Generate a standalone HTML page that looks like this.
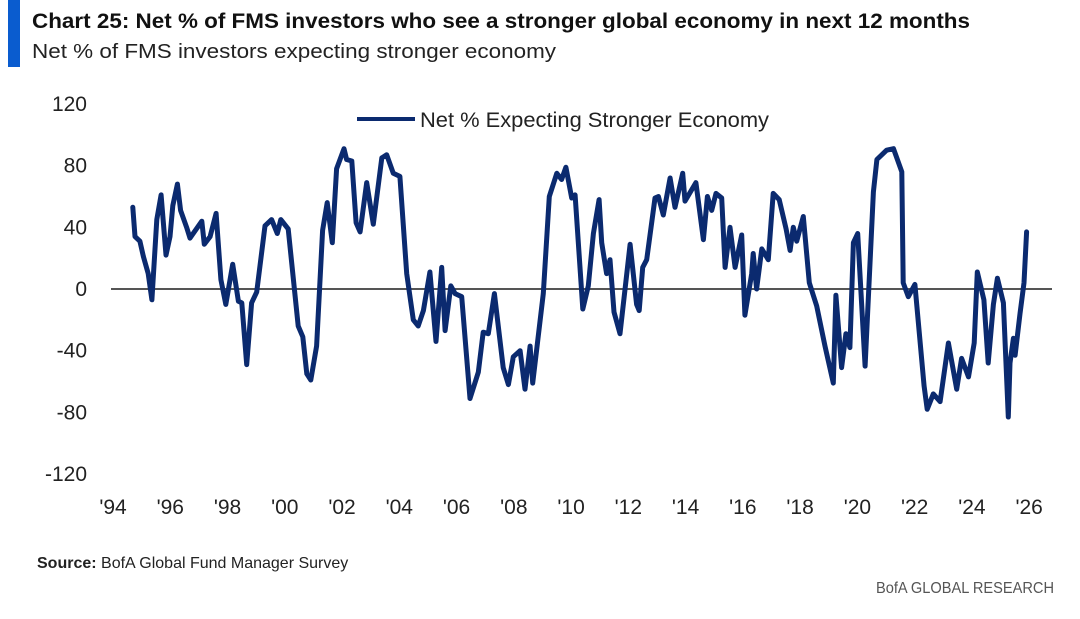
<!DOCTYPE html>
<html><head><meta charset="utf-8"><style>
html,body{margin:0;padding:0;background:#fff;}
svg{display:block;font-family:"Liberation Sans",sans-serif;}
</style></head><body>
<svg id="chart" width="1080" height="619" viewBox="0 0 1080 619">
<rect x="8" y="0" width="12" height="67" fill="#0a5ccf"/>
<text x="32" y="28" font-size="21" font-weight="bold" fill="#111" textLength="938" lengthAdjust="spacingAndGlyphs">Chart 25: Net % of FMS investors who see a stronger global economy in next 12 months</text>
<text x="32" y="58" font-size="20" fill="#222" textLength="524" lengthAdjust="spacingAndGlyphs">Net % of FMS investors expecting stronger economy</text>
<g id="yaxis"></g>
<g id="xaxis"></g>
<line x1="111" x2="1052" y1="289" y2="289" stroke="#555" stroke-width="2"/>
<g id="series"></g>
<g>
<line x1="357" x2="415" y1="119" y2="119" stroke="#0b2a6f" stroke-width="4"/>
<text x="420" y="127" font-size="21" fill="#222" textLength="349" lengthAdjust="spacingAndGlyphs">Net % Expecting Stronger Economy</text>
</g>
<text x="37" y="568" font-size="16" fill="#222"><tspan font-weight="bold">Source:</tspan> BofA Global Fund Manager Survey</text>
<text x="1054" y="593" font-size="16" fill="#555" text-anchor="end" textLength="178" lengthAdjust="spacingAndGlyphs">BofA GLOBAL RESEARCH</text>
</svg>
<script>
const yTicks=[120,80,40,0,-40,-80,-120];
const xTickYears=[1994,1996,1998,2000,2002,2004,2006,2008,2010,2012,2014,2016,2018,2020,2022,2024,2026];
const xTickLabels=["'94","'96","'98","'00","'02","'04","'06","'08","'10","'12","'14","'16","'18","'20","'22","'24","'26"];
const dates=[1994.76,1994.84,1995.01,1995.13,1995.30,1995.43,1995.60,1995.75,1995.92,1996.06,1996.16,1996.32,1996.43,1996.64,1996.76,1997.17,1997.26,1997.46,1997.67,1997.84,1998.01,1998.25,1998.45,1998.57,1998.74,1998.91,1999.09,1999.38,1999.61,1999.81,1999.93,2000.19,2000.54,2000.70,2000.84,2000.98,2001.18,2001.39,2001.55,2001.73,2001.88,2002.14,2002.23,2002.41,2002.56,2002.70,2002.93,2003.16,2003.46,2003.63,2003.86,2003.98,2004.09,2004.33,2004.56,2004.73,2004.91,2005.14,2005.35,2005.55,2005.67,2005.87,2006.02,2006.25,2006.54,2006.83,2007.00,2007.18,2007.39,2007.70,2007.88,2008.05,2008.29,2008.46,2008.64,2008.73,2009.10,2009.31,2009.57,2009.74,2009.89,2010.09,2010.21,2010.48,2010.67,2010.85,2011.05,2011.14,2011.31,2011.43,2011.57,2011.78,2012.13,2012.36,2012.45,2012.57,2012.71,2013.00,2013.12,2013.29,2013.53,2013.70,2013.97,2014.05,2014.43,2014.69,2014.83,2014.98,2015.13,2015.33,2015.45,2015.62,2015.80,2016.03,2016.14,2016.38,2016.43,2016.55,2016.73,2016.96,2017.13,2017.34,2017.58,2017.72,2017.83,2017.95,2018.18,2018.39,2018.65,2018.94,2019.23,2019.32,2019.52,2019.67,2019.81,2019.93,2020.08,2020.34,2020.63,2020.75,2021.09,2021.33,2021.62,2021.67,2021.85,2022.08,2022.40,2022.51,2022.72,2022.96,2023.25,2023.54,2023.71,2023.95,2024.15,2024.26,2024.49,2024.64,2024.82,2024.96,2025.17,2025.34,2025.40,2025.52,2025.58,2025.75,2025.89,2025.98];
const values=[53,34,31,21,10,-7,45,61,22,34,54,68,51,40,33,44,29,34,49,6,-10,16,-8,-9,-49,-9,-2,41,45,36,45,39,-24,-31,-55,-59,-37,38,56,30,78,91,84,83,43,37,69,42,85,87,75,74,73,10,-20,-24,-14,11,-34,14,-27,2,-3,-5,-71,-54,-28,-29,-3,-51,-62,-44,-40,-65,-37,-61,-3,60,75,71,79,59,61,-13,2,36,58,30,10,19,-15,-29,29,-10,-14,14,19,59,60,48,72,53,75,57,69,32,60,51,62,59,14,40,14,35,-17,10,23,0,26,19,62,58,39,25,40,31,47,4,-11,-37,-61,-4,-51,-29,-38,30,36,-50,63,84,90,91,76,4,-5,3,-63,-78,-68,-73,-35,-65,-45,-57,-35,11,-7,-48,-10,7,-9,-83,-48,-32,-43,-16,4,37,39];
const NS="http://www.w3.org/2000/svg";
function xScale(yr){return 111+(yr-1994)*28.63;}
function yScale(v){return 289-v*1.542;}
const ya=document.getElementById('yaxis');
yTicks.forEach(t=>{
  const tx=document.createElementNS(NS,'text');
  tx.setAttribute('x',87);tx.setAttribute('y',yScale(t)+7);
  tx.setAttribute('text-anchor','end');tx.setAttribute('font-size','21');tx.setAttribute('fill','#222');
  
  
  tx.textContent=t;ya.appendChild(tx);
});
const xa=document.getElementById('xaxis');
xTickYears.forEach((yr,i)=>{
  const tx=document.createElementNS(NS,'text');
  tx.setAttribute('x',xScale(yr)+2);tx.setAttribute('y',514);
  tx.setAttribute('text-anchor','middle');tx.setAttribute('font-size','21');tx.setAttribute('fill','#222');
  
  
  tx.textContent=xTickLabels[i];xa.appendChild(tx);
});
const p=document.createElementNS(NS,'path');
p.setAttribute('d',dates.map((d,i)=>(i?'L':'M')+xScale(d).toFixed(1)+' '+yScale(values[i]).toFixed(1)).join(' '));
p.setAttribute('fill','none');p.setAttribute('stroke','#0b2a6f');p.setAttribute('stroke-width','5');
p.setAttribute('stroke-linejoin','round');p.setAttribute('stroke-linecap','round');


document.getElementById('series').appendChild(p);
</script>
</body></html>
